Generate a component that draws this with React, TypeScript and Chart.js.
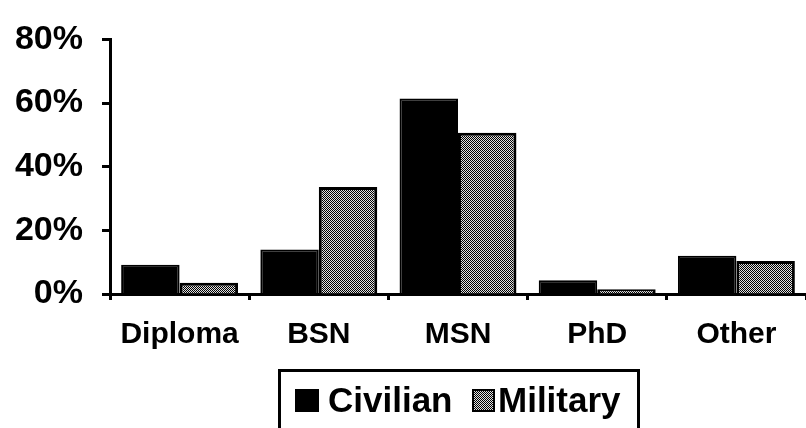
import React, { useEffect, useRef } from "react";
import { Chart, registerables } from "chart.js";

Chart.register(...registerables);

const categories = ["Diploma", "BSN", "MSN", "PhD", "Other"];
const civilianValues = [9.2, 14, 61.4, 4.3, 12];
const militaryValues = [3.5, 33.6, 50.7, 1.5, 10.4];
const seriesNames = ["Civilian", "Military"];
const yTicks = [0, 20, 40, 60, 80];

const FONT = "'Liberation Sans', Arial, sans-serif";

function makePattern(): CanvasPattern | string {
  const c = document.createElement("canvas");
  c.width = 4;
  c.height = 4;
  const ctx = c.getContext("2d");
  if (!ctx) return "#777";
  ctx.fillStyle = "#e0e0e0";
  ctx.fillRect(0, 0, 4, 4);
  ctx.fillStyle = "#000";
  for (let y = 0; y < 4; y++) {
    for (let x = 0; x < 4; x++) {
      if ((x + y) % 2 === 0) ctx.fillRect(x, y, 1, 1);
    }
  }
  const p = ctx.createPattern(c, "repeat");
  return p || "#777";
}

export default function App() {
  const ref = useRef<HTMLCanvasElement | null>(null);

  useEffect(() => {
    if (!ref.current) return;
    const pattern = makePattern();
    const chart = new Chart(ref.current, {
      type: "bar",
      data: {
        labels: categories,
        datasets: [
          {
            label: seriesNames[0],
            data: civilianValues,
            backgroundColor: "#000",
            borderColor: "#000",
            borderWidth: 2,
            categoryPercentage: 0.84,
            barPercentage: 1.0,
          },
          {
            label: seriesNames[1],
            data: militaryValues,
            backgroundColor: pattern as any,
            borderColor: "#000",
            borderWidth: 3,
            categoryPercentage: 0.84,
            barPercentage: 1.0,
          },
        ],
      },
      options: {
        responsive: false,
        animation: false,
        layout: { padding: { top: 32, left: 0, right: 0, bottom: 0 } },
        plugins: {
          legend: { display: false },
          tooltip: { enabled: false },
        },
        scales: {
          x: {
            grid: {
              display: true,
              drawOnChartArea: false,
              drawTicks: true,
              tickLength: 6,
              tickWidth: 3,
              tickColor: "#000",
            },
            border: { display: true, color: "#000", width: 3 },
            ticks: {
              color: "#000",
              padding: 17,
              font: { family: FONT, size: 30, weight: "bold" },
              maxRotation: 0,
              autoSkip: false,
            },
            afterFit: (s: any) => {
              s.height = 134;
            },
          },
          y: {
            min: 0,
            max: 80,
            afterBuildTicks: (s: any) => {
              s.ticks = yTicks.map((v) => ({ value: v }));
            },
            grid: {
              display: true,
              drawOnChartArea: false,
              drawTicks: true,
              tickLength: 8,
              tickWidth: 3,
              tickColor: "#000",
            },
            border: { display: true, color: "#000", width: 3 },
            ticks: {
              color: "#000",
              padding: 19,
              font: { family: FONT, size: 34, weight: "bold" },
              callback: (v: any) => v + "%",
            },
            afterFit: (s: any) => {
              s.width = 110;
            },
          },
        },
      },
    });
    return () => chart.destroy();
  }, []);

  const textStyle: React.CSSProperties = {
    position: "absolute",
    top: 10,
    lineHeight: "35px",
    whiteSpace: "nowrap",
  };

  return (
    <div
      style={{
        position: "fixed",
        left: 0,
        top: 0,
        width: 806,
        height: 428,
        overflow: "hidden",
        background: "#fff",
      }}
    >
      <canvas ref={ref} width={806} height={428} style={{ display: "block" }} />
      <div
        style={{
          position: "absolute",
          left: 278,
          top: 369,
          width: 362,
          height: 90,
          boxSizing: "border-box",
          border: "3px solid #000",
          fontFamily: FONT,
          fontWeight: "bold",
          fontSize: 35,
          color: "#000",
        }}
      >
        <span
          style={{
            position: "absolute",
            left: 14,
            top: 17,
            width: 24,
            height: 23,
            background: "#000",
          }}
        />
        <span style={{ ...textStyle, left: 47 }}>{seriesNames[0]}</span>
        <span
          style={{
            position: "absolute",
            left: 191,
            top: 17,
            width: 23,
            height: 23,
            boxSizing: "border-box",
            border: "2px solid #000",
            background:
              "repeating-conic-gradient(#000 0 25%, #e0e0e0 0 50%) 0 0 / 2px 2px",
          }}
        />
        <span style={{ ...textStyle, left: 217 }}>{seriesNames[1]}</span>
      </div>
    </div>
  );
}
